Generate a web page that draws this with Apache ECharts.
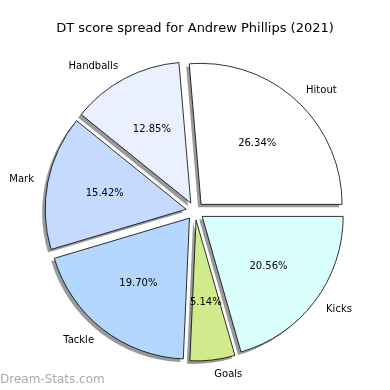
<!DOCTYPE html>
<html><head><meta charset="utf-8">
<script src="https://cdn.jsdelivr.net/npm/echarts@6/dist/echarts.min.js"></script>
<style>html,body{margin:0;padding:0;background:#fff}#c{width:390px;height:390px}</style>
</head><body><div id="c"></div>
<script>
const categories = ['Hitout', 'Handballs', 'Mark', 'Tackle', 'Goals', 'Kicks'];
const values = [26.34, 12.85, 15.42, 19.70, 5.14, 20.56];
const colors = ['#ffffff', '#eaf0ff', '#c6daff', '#b4d7ff', '#d0eb8b', '#d9ffff'];
const titleText = 'DT score spread for Andrew Phillips (2021)';
const watermark = 'Dream-Stats.com';

const total = values.reduce((a, b) => a + b, 0);
const R = 141;
const OFF = 9;
const CX = 195, CY = 211;
const FONT = 'DejaVu Sans';

const base = {
  type: 'pie',
  startAngle: 0,
  clockwise: false,
  selectedMode: 'multiple',
  selectedOffset: OFF,
  avoidLabelOverlap: false,
  silent: true,
  emphasis: { disabled: true }
};

const chart = echarts.init(document.getElementById('c'), null, { renderer: 'canvas' });
chart.setOption({
  backgroundColor: '#ffffff',
  animation: false,
  title: {
    text: titleText, left: 'center', top: 17,
    textStyle: { fontFamily: FONT, fontSize: 13, fontWeight: 'normal', color: '#000' }
  },
  graphic: [{
    type: 'text', left: 0, top: 374,
    style: { text: watermark, fontFamily: FONT, fontSize: 12, fontWeight: 'normal', fill: '#aaaaaa' }
  }],
  series: [
    Object.assign({}, base, {
      name: 'shadow',
      center: [CX - 3, CY + 3],
      radius: [0, R],
      itemStyle: { color: 'rgba(0,0,0,0.4)', borderWidth: 0 },
      label: { show: false },
      labelLine: { show: false },
      data: categories.map((n, i) => ({ name: n, value: values[i], selected: true }))
    }),
    Object.assign({}, base, {
      name: 'slices',
      center: [CX, CY],
      radius: [0, R],
      itemStyle: { borderColor: '#000', borderWidth: 0.8 },
      label: {
        show: true, position: 'outside', formatter: '{b}',
        fontFamily: FONT, fontSize: 10, color: '#000', distanceToLabelLine: 0
      },
      labelLine: { show: false, length: R * 0.1, length2: 0 },
      select: { itemStyle: { borderColor: '#000', borderWidth: 0.8 } },
      data: categories.map((n, i) => ({
        name: n, value: values[i], selected: true, itemStyle: { color: colors[i] }
      }))
    }),
    Object.assign({}, base, {
      name: 'pct',
      center: [CX, CY],
      radius: [0, 160],
      itemStyle: { color: 'rgba(0,0,0,0)', borderWidth: 0 },
      label: {
        show: true, position: 'inside',
        formatter: p => (p.value / total * 100).toFixed(2) + '%',
        fontFamily: FONT, fontSize: 10, color: '#000'
      },
      labelLine: { show: false },
      data: categories.map((n, i) => ({ name: n, value: values[i], selected: true }))
    })
  ]
});
</script></body></html>
